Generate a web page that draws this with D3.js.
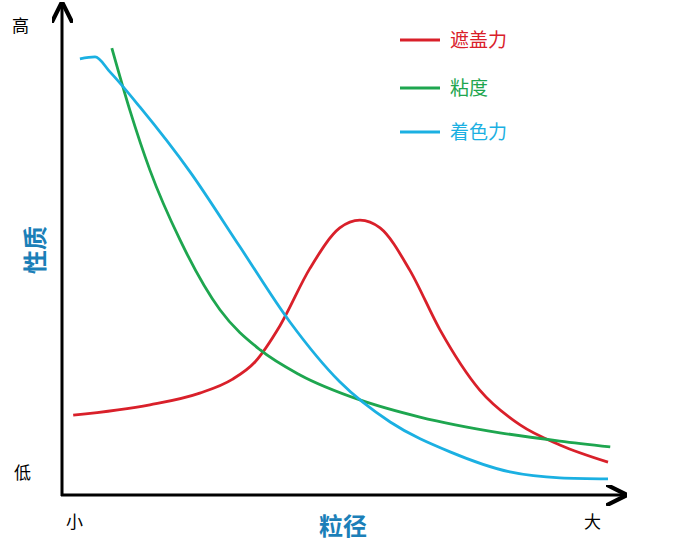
<!DOCTYPE html>
<html><head><meta charset="utf-8">
<script src="https://cdn.jsdelivr.net/npm/d3@7"></script>
<style>body{margin:0;background:#fff}svg{font-family:"Noto Sans CJK SC",sans-serif}</style>
</head><body><svg id="c" width="693" height="550"></svg>
<script>
// curves on a 0-100 relative scale (particle size -> property)
const hiding = [[2.0,16.3],[15.7,18.4],[24.6,20.8],[30.4,23.6],[34.5,27.2],[38.9,34.5],[44.3,46.3],[49.6,54.5],[53.2,56.1],[56.8,54.5],[62.1,45.9],[67.5,33.7],[74.6,21.4],[81.8,14.3],[88.9,10.2],[97.5,6.7]];
const viscosity = [[8.9,91.2],[12.1,78.6],[15.7,66.3],[21.1,52.0],[28.2,37.8],[35.4,29.6],[42.5,24.5],[53.2,19.4],[63.9,15.9],[78.2,12.7],[88.9,11.0],[97.9,9.8]];
const tinting = [[3.2,89.0],[5.9,89.4],[8.6,86.3],[13.9,79.2],[22.9,65.9],[31.8,50.6],[40.7,35.3],[49.6,23.1],[58.6,14.9],[69.3,8.8],[80.0,4.7],[88.9,3.5],[97.5,3.3]];
const seriesNames = ["遮盖力","粘度","着色力"];
const seriesColors = ["#d9202a","#1ea64f","#1bb0e2"];

const svg = d3.select("#c");
const x = d3.scaleLinear().domain([0,100]).range([62,622]);
const y = d3.scaleLinear().domain([0,100]).range([495,5]);

svg.append("defs").append("marker").attr("id","arr").attr("viewBox","0 0 10 10")
  .attr("refX",9).attr("refY",5).attr("markerWidth",7).attr("markerHeight",7).attr("orient","auto")
  .append("path").attr("d","M0,0L10,5L0,10").attr("fill","none").attr("stroke","#000").attr("stroke-width",2);
svg.append("line").attr("x1",62).attr("y1",496).attr("x2",62).attr("y2",4)
  .attr("stroke","#000").attr("stroke-width",3).attr("marker-end","url(#arr)");
svg.append("line").attr("x1",61).attr("y1",495).attr("x2",625).attr("y2",495)
  .attr("stroke","#000").attr("stroke-width",3).attr("marker-end","url(#arr)");

const line = d3.line().x(d => x(d[0])).y(d => y(d[1])).curve(d3.curveMonotoneX);
[hiding, viscosity, tinting].forEach((s,i) => {
  svg.append("path").attr("d", line(s)).attr("fill","none")
    .attr("stroke", seriesColors[i]).attr("stroke-width",2.8);
});

seriesNames.forEach((n,i) => {
  const ly = [40,88,132][i];
  svg.append("line").attr("x1",400).attr("x2",440).attr("y1",ly).attr("y2",ly)
    .attr("stroke",seriesColors[i]).attr("stroke-width",2.8);
  svg.append("text").attr("x",450).attr("y",ly+7).text(n)
    .attr("fill",seriesColors[i]).attr("font-size",19);
});

const t = (s,xx,yy,size,col,w) => svg.append("text").attr("x",xx).attr("y",yy).text(s)
  .attr("font-size",size).attr("fill",col).attr("font-weight",w||"normal");
t("高",12,32,17,"#000");
t("低",14,479,17,"#000");
t("小",66,528,17,"#000");
t("大",584,528,17,"#000");
t("粒径",319,535,24,"#1b7fb8","bold");
svg.append("text").attr("transform","translate(44,250) rotate(-90)").attr("text-anchor","middle")
  .text("性质").attr("font-size",24).attr("fill","#1b7fb8").attr("font-weight","bold");
</script></body></html>
